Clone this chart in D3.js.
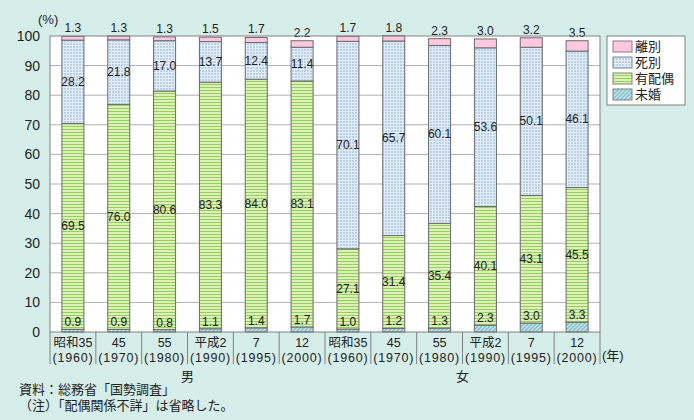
<!DOCTYPE html>
<html><head><meta charset="utf-8">
<script src="https://cdn.jsdelivr.net/npm/d3@7"></script>
<style>
body{margin:0;background:#d6eeea;}
svg{display:block;font-family:"Liberation Sans","Noto Sans CJK JP",sans-serif;}
</style></head>
<body><svg id="c" width="694" height="420"></svg>
<script>
const eras = ["昭和35","45","55","平成2","7","12"];
const years = ["(1960)","(1970)","(1980)","(1990)","(1995)","(2000)"];
const groups = ["男","女"];
const seriesNames = ["未婚","有配偶","死別","離別"];
const unmarried = [0.9,0.9,0.8,1.1,1.4,1.7, 1.0,1.2,1.3,2.3,3.0,3.3];
const married   = [69.5,76.0,80.6,83.3,84.0,83.1, 27.1,31.4,35.4,40.1,43.1,45.5];
const widowed   = [28.2,21.8,17.0,13.7,12.4,11.4, 70.1,65.7,60.1,53.6,50.1,46.1];
const divorced  = [1.3,1.3,1.3,1.5,1.7,2.2, 1.7,1.8,2.3,3.0,3.2,3.5];
const yTicks = [0,10,20,30,40,50,60,70,80,90,100];

const svg = d3.select("#c");
const defs = svg.append("defs");
const pDot = defs.append("pattern").attr("id","pw").attr("patternUnits","userSpaceOnUse").attr("width",3).attr("height",3);
pDot.append("rect").attr("width",3).attr("height",3).attr("fill","#b8d0ec");
pDot.append("rect").attr("width",3).attr("height",1).attr("fill","#e4eefa");
pDot.append("rect").attr("width",1).attr("height",3).attr("fill","#e4eefa");
const pStr = defs.append("pattern").attr("id","pm").attr("patternUnits","userSpaceOnUse").attr("width",3).attr("height",3);
pStr.append("rect").attr("width",3).attr("height",3).attr("fill","#dcf2b4");
pStr.append("rect").attr("width",3).attr("height",1).attr("fill","#98cc66");
const pHat = defs.append("pattern").attr("id","pu").attr("patternUnits","userSpaceOnUse").attr("width",4).attr("height",4);
pHat.append("rect").attr("width",4).attr("height",4).attr("fill","#c8ecd8");
pHat.append("path").attr("d","M-1,1 L1,-1 M0,4 L4,0 M3,5 L5,3").attr("stroke","#80b8e0").attr("stroke-width",1.4);

const fills = {"未婚":"url(#pu)","有配偶":"url(#pm)","死別":"url(#pw)","離別":"#ffc8e0"};

const L=50,R=600,T=36,B=332;
const cats = d3.range(12);
const x = d3.scaleBand().domain(cats).range([L,R]).paddingInner(0.52).paddingOuter(0.26);
const y = d3.scaleLinear().domain([0,100]).range([B,T]);

svg.append("rect").attr("x",L).attr("y",T).attr("width",R-L).attr("height",B-T).attr("fill","#fff");
svg.append("g").selectAll("line").data(yTicks.slice(1,-1)).join("line")
 .attr("x1",L).attr("x2",R).attr("y1",d=>y(d)).attr("y2",d=>y(d)).attr("stroke","#b0b0b0");
const yAxis = d3.axisLeft(y).tickValues(yTicks).tickSize(0).tickPadding(10);
const ya = svg.append("g").attr("transform",`translate(${L},0)`).call(yAxis);
ya.select(".domain").remove();
ya.selectAll("text").attr("font-size",14).attr("fill","#222").attr("font-family","Liberation Sans");
svg.append("text").attr("x",38).attr("y",24).attr("font-size",13).attr("fill","#222").text("(%)");

const rows = cats.map(i=>({i,"未婚":unmarried[i],"有配偶":married[i],"死別":widowed[i],"離別":divorced[i]}));
const stack = d3.stack().keys(seriesNames)(rows);
const bw = x.bandwidth();
stack.forEach(s=>{
  svg.append("g").selectAll("rect").data(s).join("rect")
   .attr("x",d=>x(d.data.i)).attr("width",bw)
   .attr("y",d=>y(d[1])).attr("height",d=>y(d[0])-y(d[1]))
   .attr("fill",fills[s.key]).attr("stroke","#6a6a6a").attr("stroke-width",1);
});
const lab = svg.append("g").attr("font-size",12).attr("fill","#222").attr("text-anchor","middle");
stack.forEach(s=>{
  lab.selectAll(null).data(s).join("text")
   .attr("x",d=>x(d.data.i)+bw/2)
   .attr("y",d=>{
     if(s.key==="未婚") return y(d[1])-3;
     if(s.key==="離別") return y(d[1])-4;
     return (y(d[0])+y(d[1]))/2+4;
   })
   .text(d=>d.data[s.key].toFixed(1));
});
svg.append("rect").attr("x",L).attr("y",T).attr("width",R-L).attr("height",B-T).attr("fill","none").attr("stroke","#808080");

const seps = d3.range(13).map(k=>L+k*(R-L)/12);
svg.append("g").selectAll("line").data(seps).join("line")
 .attr("x1",d=>d).attr("x2",d=>d).attr("y1",B).attr("y2",364).attr("stroke","#808080");
const xl = svg.append("g").attr("font-size",12.5).attr("fill","#222").attr("text-anchor","middle");
cats.forEach(i=>{
  const cx = x(i)+bw/2;
  xl.append("text").attr("x",cx).attr("y",347).text(eras[i%6]);
  xl.append("text").attr("x",cx).attr("y",361.5).attr("letter-spacing",0.8).text(years[i%6]);
});
svg.append("text").attr("x",602).attr("y",360).attr("font-size",13).attr("fill","#222").text("(年)");
groups.forEach((g,k)=>{
  svg.append("text").attr("x",L+(R-L)/4+(R-L)/2*k).attr("y",381).attr("font-size",13).attr("fill","#222").attr("text-anchor","middle").text(g);
});

const lg = svg.append("g");
lg.append("rect").attr("x",607).attr("y",36).attr("width",78).attr("height",69).attr("fill","#fff").attr("stroke","#808080");
const legendOrder = ["離別","死別","有配偶","未婚"];
legendOrder.forEach((k,j)=>{
  const yy = 41+j*16;
  lg.append("rect").attr("x",613).attr("y",yy).attr("width",19).attr("height",11).attr("fill",fills[k]).attr("stroke","#808080");
  lg.append("text").attr("x",635).attr("y",yy+10).attr("font-size",13).attr("fill","#222").text(k);
});

svg.append("text").attr("x",19).attr("y",394).attr("font-size",13).attr("fill","#222").text("資料：総務省「国勢調査」");
svg.append("text").attr("x",19).attr("y",410).attr("font-size",13).attr("fill","#222").text("（注）「配偶関係不詳」は省略した。");
</script></body></html>
